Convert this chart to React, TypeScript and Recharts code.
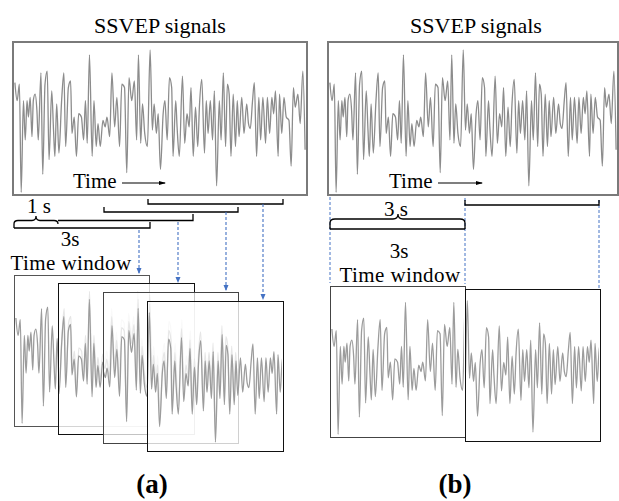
import React from 'react';
import { LineChart, Line, XAxis, YAxis } from 'recharts';

// Time (s) of each sampled turning point of the SSVEP trace
const timeS = [
  0.02, 0.07, 0.12, 0.16, 0.21, 0.25, 0.29, 0.32, 0.36, 0.40, 0.43, 0.47, 0.51, 0.54, 0.60, 0.64, 0.69, 0.74, 0.78, 0.84,
  0.88, 0.91, 0.95, 1.00, 1.06, 1.11, 1.15, 1.21, 1.26, 1.29, 1.34, 1.39, 1.44, 1.50, 1.55, 1.59, 1.63, 1.68, 1.74, 1.78,
  1.83, 1.87, 1.92, 1.98, 2.03, 2.07, 2.13, 2.18, 2.24, 2.29, 2.35, 2.40, 2.46, 2.51, 2.56, 2.62, 2.68, 2.73, 2.77, 2.82,
  2.86, 2.91, 2.97, 3.03, 3.08, 3.12, 3.17, 3.21, 3.26, 3.32, 3.36, 3.41, 3.46, 3.51, 3.54, 3.60, 3.63, 3.68, 3.75, 3.80,
  3.85, 3.90, 3.94, 3.99, 4.04, 4.09, 4.13, 4.18, 4.24, 4.28, 4.32, 4.37, 4.42, 4.46, 4.51, 4.57, 4.61, 4.66, 4.71, 4.75,
  4.79, 4.83, 4.88, 4.93, 4.97, 5.01, 5.07, 5.12, 5.18, 5.22, 5.26, 5.31, 5.35, 5.40, 5.45, 5.49, 5.54, 5.60, 5.64, 5.69,
  5.74, 5.78, 5.82, 5.88, 5.91, 5.96, 6.01, 6.06, 6.12, 6.17, 6.22, 6.26, 6.32, 6.37, 6.43, 6.48,
];

// Amplitude (arbitrary units)
const amplitude = [
  11.5, 6, 11, -22, 6, -6, 6, 1, 7, -5, 6, 8, 3, -6, 14.5, -16.5, 11, 15, -12, 9,
  -3, -11, 5, -10, 6, 14.5, -8, 10, 12, -4, 1, -11, 2, 1, -6, 6, -7, 20, -11, 6,
  -8, -1, -8, 0, -2, 1, -5, 14.5, -2, 7, -8, 11, 10, -16, 13, 6, 12, -6, 20, -7,
  5, -4, -8, 21.5, -3, 5, -4, 2, -15, 2, 6, -6, 13, 10, -11, 6, -2, -11, 13.5, -7,
  2, -2, 10, -11, 4, -8, 5, 12.5, -10, 6, -4, 6, -6, 9, -20, 6, -6, 14.5, -8, 11,
  8, -11, 8, -8, 6, -5, 7, -4, 5, -1, -2.5, 6, 11.5, -11, 7, -6, 7, -7, 7, -4,
  7, 2, 9, -11, 8, -4, 7, 1, 0, -14, 10, 4, 8, -1, 15, -9,
];

const recordDomain = [0, 6.5];
const windowStartsA = [0, 1, 2, 3]; // sliding windows, 1 s step
const windowStartsB = [0, 3]; // non-overlapping windows
const windowLength = 3;

const signal = timeS.map((t, i) => ({ t, v: amplitude[i] }));
const Y_DOMAIN = [-22.5, 23.6];
const FONT = "'Liberation Serif','Times New Roman',Times,serif";
const BLUE = '#4472c4';

function Trace({ w, h, domain, stroke, top = 0, sw = 1.3 }) {
  return (
    <LineChart width={w} height={h} data={signal} margin={{ top, right: 0, bottom: 0, left: 0 }}>
      <XAxis dataKey="t" type="number" domain={domain} hide allowDataOverflow />
      <YAxis type="number" domain={Y_DOMAIN} hide allowDataOverflow />
      <Line type="monotone" dataKey="v" stroke={stroke} strokeWidth={sw} dot={false} isAnimationActive={false} />
    </LineChart>
  );
}

const winBoxesA = [
  { x: 14, y: 275, w: 136, h: 152, c: '#555', bg: '#fff' },
  { x: 58, y: 283, w: 137, h: 152, c: '#111', bg: 'rgba(255,255,255,0.75)' },
  { x: 103, y: 292, w: 136, h: 152, c: '#444', bg: 'rgba(255,255,255,0.75)' },
  { x: 147, y: 301, w: 137, h: 151, c: '#111', bg: 'rgba(255,255,255,0.75)' },
];
const winBoxesB = [
  { x: 330, y: 286, w: 136, h: 152, c: '#444', bg: '#fff' },
  { x: 465, y: 289, w: 136, h: 153, c: '#111', bg: '#fff' },
];

function Box({ b, domain, topBox = false }) {
  const bw = topBox ? 2 : 1.5;
  return (
    <div
      style={{
        position: 'absolute', left: b.x, top: b.y, width: b.w, height: b.h, boxSizing: 'border-box',
        border: `${bw}px solid ${b.c}`, background: b.bg, overflow: 'hidden',
      }}
    >
      <div style={{ position: 'absolute', left: 0, top: 0 }}>
        <Trace w={b.w - 2 * bw} h={b.h - 2 * bw} domain={domain} stroke={topBox ? '#8c8c8c' : '#9c9c9c'} top={topBox ? 0 : 4} />
      </div>
    </div>
  );
}

export default function App() {
  const txt = { fontFamily: FONT, fontSize: 21, fill: '#000' };
  return (
    <div style={{ position: 'absolute', left: 0, top: 0, width: 619, height: 501, background: '#fff', overflow: 'hidden' }}>
      <Box b={{ x: 12, y: 41, w: 296, h: 155, c: '#7a7a7a', bg: '#fff' }} domain={recordDomain} topBox />
      <Box b={{ x: 327, y: 41, w: 292, h: 155, c: '#7a7a7a', bg: '#fff' }} domain={recordDomain} topBox />
      {winBoxesA.map((b, i) => (
        <Box key={'a' + i} b={b} domain={[windowStartsA[i], windowStartsA[i] + windowLength]} />
      ))}
      {winBoxesB.map((b, i) => (
        <Box key={'b' + i} b={b} domain={[windowStartsB[i], windowStartsB[i] + windowLength]} />
      ))}
      <svg width={619} height={501} style={{ position: 'absolute', left: 0, top: 0, pointerEvents: 'none' }}>
        <defs>
          <marker id="ab" markerWidth="6" markerHeight="6" refX="5" refY="3" orient="auto" markerUnits="userSpaceOnUse">
            <path d="M0,0.5 L6,3 L0,5.5 z" fill={BLUE} />
          </marker>
          <marker id="ak" markerWidth="7" markerHeight="6" refX="6" refY="3" orient="auto" markerUnits="userSpaceOnUse">
            <path d="M0,1 L7,3 L0,5 z" fill="#000" />
          </marker>
        </defs>
        {/* titles */}
        <text x={160} y={33} textAnchor="middle" style={{ ...txt, fontSize: 22 }}>SSVEP signals</text>
        <text x={476} y={33} textAnchor="middle" style={{ ...txt, fontSize: 22 }}>SSVEP signals</text>
        {/* Time arrows */}
        <text x={73} y={188} style={txt}>Time</text>
        <line x1={122} y1={183} x2={165} y2={183} stroke="#000" strokeWidth={1.1} markerEnd="url(#ak)" />
        <text x={389} y={188} style={txt}>Time</text>
        <line x1={438} y1={183} x2={482} y2={183} stroke="#000" strokeWidth={1.1} markerEnd="url(#ak)" />

        {/* panel (a) brackets */}
        <g fill="none" stroke="#000" strokeWidth={1.3}>
          <path d="M148,199 V204 H283 V199" />
          <path d="M104,207 V212 H238 V207" />
          <path d="M58,220.5 H193 V214" />
          <path d="M14,228 H150 V222" />
          <path d="M14,228 V224 Q14,220.5 18,220.5 H32 Q36,220.5 36,216 Q36,220.5 40,220.5 H54 Q58,220.5 58,224" />
        </g>
        <text x={27} y={213} style={txt}>1 s</text>
        <text x={70} y={246} textAnchor="middle" style={txt}>3s</text>
        <text x={71} y={270} textAnchor="middle" style={{ ...txt, letterSpacing: 0.4 }}>Time window</text>
        <g stroke={BLUE} strokeWidth={1.1} strokeDasharray="3 2">
          <line x1={139} y1={230} x2={139} y2={273} markerEnd="url(#ab)" />
          <line x1={178} y1={222} x2={178} y2={282} markerEnd="url(#ab)" />
          <line x1={226} y1={212} x2={226} y2={290} markerEnd="url(#ab)" />
          <line x1={263} y1={204} x2={263} y2={299} markerEnd="url(#ab)" />
        </g>

        {/* panel (b) brackets */}
        <g stroke={BLUE} strokeWidth={1} strokeDasharray="3 2">
          <line x1={330} y1={197} x2={330} y2={283} />
          <line x1={465} y1={198} x2={465} y2={284} />
          <line x1={599} y1={200} x2={599} y2={288} />
        </g>
        <g fill="none" stroke="#000" strokeWidth={1.3}>
          <path d="M465,200 V205 H599 V200" />
          <path d="M330,229 H465" />
          <path d="M330,229 V223 Q330,219 335,219 H393 Q398,219 398,214 Q398,219 403,219 H460 Q465,219 465,223 V229" />
        </g>
        <text x={384} y={216} style={txt}>3 s</text>
        <text x={399} y={258} textAnchor="middle" style={txt}>3s</text>
        <text x={400} y={282} textAnchor="middle" style={{ ...txt, letterSpacing: 0.4 }}>Time window</text>

        {/* panel labels */}
        <text x={152} y={493} textAnchor="middle" style={{ ...txt, fontSize: 27, fontWeight: 'bold' }}>(a)</text>
        <text x={455} y={493} textAnchor="middle" style={{ ...txt, fontSize: 27, fontWeight: 'bold' }}>(b)</text>
      </svg>
    </div>
  );
}
